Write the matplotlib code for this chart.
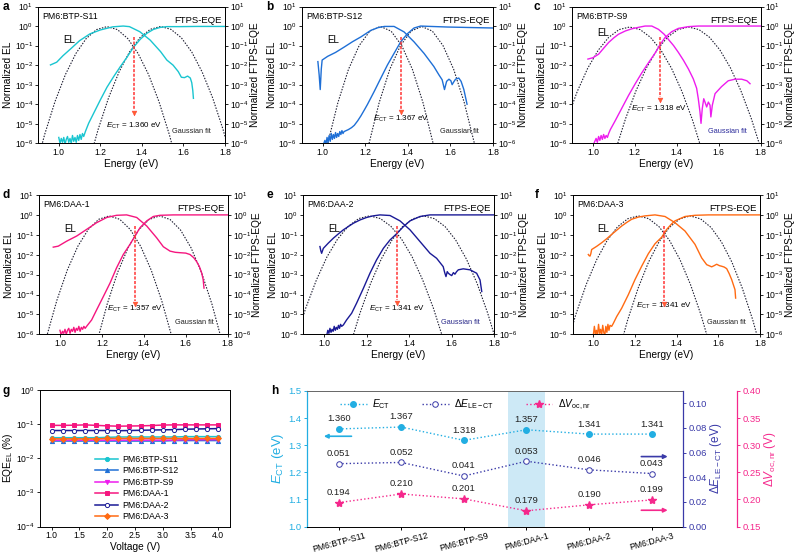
import numpy as np
import matplotlib
matplotlib.use("Agg")
import matplotlib.pyplot as plt
from matplotlib.ticker import LogLocator, NullLocator, FormatStrFormatter

plt.rcParams["font.family"] = ["Liberation Sans", "DejaVu Sans"]
plt.rcParams["mathtext.fontset"] = "custom"
plt.rcParams["mathtext.rm"] = "Liberation Sans"
plt.rcParams["mathtext.it"] = "Liberation Sans:italic"
plt.rcParams["mathtext.bf"] = "Liberation Sans:bold"
plt.rcParams["axes.linewidth"] = 0.7

# ---------------- data ----------------
samples = ["PM6:BTP-S11", "PM6:BTP-S12", "PM6:BTP-S9", "PM6:DAA-1", "PM6:DAA-2", "PM6:DAA-3"]
colors = ["#19c5d0", "#1e6fd6", "#ee1cee", "#f5167f", "#1a1a96", "#ff6a12"]
ect = [1.360, 1.367, 1.318, 1.357, 1.341, 1.341]
de_lect = [0.051, 0.052, 0.041, 0.053, 0.046, 0.043]
dv_nr = [0.194, 0.210, 0.201, 0.179, 0.190, 0.199]

# panel a (log10 of normalized values)
a_el_e = [0.96, 0.99, 1.02, 1.06, 1.10, 1.15, 1.20, 1.26, 1.31, 1.34, 1.39, 1.44, 1.49, 1.52, 1.55,
          1.575, 1.59, 1.605, 1.62, 1.633, 1.64, 1.645, 1.648]
a_el_log = [-1.99, -1.85, -1.52, -1.14, -0.75, -0.4, -0.2, -0.04, 0.0, -0.03, -0.29, -0.72, -1.31,
            -1.74, -2.0, -2.33, -2.62, -2.64, -2.56, -2.66, -2.9, -3.3, -3.7]
a_eqe_e = [1.000, 1.006, 1.012, 1.018, 1.024, 1.030, 1.036, 1.042, 1.048, 1.054, 1.060, 1.066, 1.072,
           1.078, 1.084, 1.090, 1.096, 1.102, 1.108, 1.114, 1.120, 1.128, 1.144, 1.168, 1.20, 1.232,
           1.264, 1.296, 1.328, 1.36, 1.392, 1.424, 1.456, 1.488, 1.52, 1.584, 1.664, 1.80]
a_eqe_log = [-5.7, -6.0, -5.75, -5.95, -5.7, -6.05, -5.8, -5.65, -5.95, -5.75, -6.0, -5.6, -5.9, -5.7,
             -5.95, -5.6, -5.85, -5.55, -5.8, -5.5, -5.65, -5.4, -4.97, -4.46, -3.78, -3.13, -2.59,
             -2.08, -1.6, -1.08, -0.68, -0.37, -0.17, -0.07, -0.03, -0.03, -0.02, -0.02]
a_g1_e = [0.882, 0.932, 0.982, 1.032, 1.082, 1.132, 1.182, 1.232, 1.282, 1.332, 1.382, 1.432, 1.482, 1.532, 1.582]
a_g1_log = [-7.54, -5.55, -3.86, -2.48, -1.41, -0.64, -0.18, -0.03, -0.18, -0.64, -1.41, -2.48, -3.86, -5.55, -7.54]
a_g2_e = [1.14, 1.19, 1.24, 1.29, 1.34, 1.39, 1.44, 1.49, 1.54, 1.59, 1.64, 1.69, 1.74, 1.79, 1.84]
a_g2_log = [-7.16, -5.27, -3.66, -2.35, -1.33, -0.60, -0.17, -0.02, -0.17, -0.60, -1.33, -2.35, -3.66, -5.27, -7.16]

# panel b
b_el_e = [0.977, 0.983, 0.988, 0.993, 0.997, 1.023, 1.06, 1.10, 1.14, 1.18, 1.226, 1.26, 1.29, 1.335,
          1.382, 1.429, 1.476, 1.522, 1.546, 1.561, 1.572, 1.582, 1.593, 1.602, 1.608, 1.616, 1.624,
          1.639, 1.65, 1.663, 1.678]
b_el_log = [-1.82, -2.5, -3.25, -2.2, -1.74, -1.55, -1.35, -1.08, -0.8, -0.55, -0.22, -0.08, -0.02,
            -0.02, -0.3, -0.81, -1.4, -2.07, -2.5, -2.75, -3.25, -2.83, -2.72, -2.8, -3.0, -2.85,
            -2.72, -2.66, -2.83, -3.25, -4.0]
b_eqe_e = [1.005, 1.01, 1.015, 1.02, 1.025, 1.03, 1.035, 1.04, 1.045, 1.05, 1.055, 1.06, 1.065, 1.07,
           1.075, 1.08, 1.085, 1.09, 1.095, 1.10, 1.11, 1.12, 1.135, 1.148, 1.164, 1.179, 1.195, 1.21,
           1.242, 1.273, 1.304, 1.335, 1.366, 1.398, 1.429, 1.46, 1.507, 1.585, 1.71, 1.80]
b_eqe_log = [-6.0, -5.85, -6.05, -5.7, -5.95, -5.6, -5.9, -5.5, -5.8, -5.55, -5.75, -5.45, -5.7, -5.5,
             -5.65, -5.4, -5.55, -5.35, -5.5, -5.4, -5.35, -5.3, -5.2, -5.08, -4.85, -4.6, -4.3, -4.01,
             -3.34, -2.66, -1.99, -1.4, -0.81, -0.39, -0.1, 0.0, -0.02, -0.05, -0.08, -0.1]
b_g1_e = [0.921, 0.971, 1.021, 1.071, 1.121, 1.171, 1.221, 1.271, 1.321, 1.371, 1.421, 1.471, 1.521, 1.571, 1.621]
b_g1_log = [-11.96, -8.8, -6.11, -3.92, -2.21, -1.0, -0.26, -0.02, -0.26, -1.0, -2.21, -3.92, -6.11, -8.8, -11.96]
b_g2_e = [1.115, 1.165, 1.215, 1.265, 1.315, 1.365, 1.415, 1.465, 1.515, 1.565, 1.615, 1.665, 1.715, 1.765, 1.815]
b_g2_log = [-11.96, -8.8, -6.11, -3.92, -2.21, -1.0, -0.26, -0.02, -0.26, -1.0, -2.21, -3.92, -6.11, -8.8, -11.96]

# panel c
c_el_e = [0.976, 1.0, 1.027, 1.05, 1.075, 1.10, 1.122, 1.155, 1.186, 1.22, 1.249, 1.281, 1.313, 1.34,
          1.36, 1.385, 1.408, 1.432, 1.456, 1.479, 1.495, 1.503, 1.511, 1.516, 1.522, 1.529, 1.535,
          1.543, 1.551, 1.559, 1.563, 1.57, 1.583, 1.614, 1.646, 1.678, 1.71, 1.735, 1.75]
c_el_log = [-1.69, -1.62, -1.44, -1.15, -0.84, -0.6, -0.42, -0.25, -0.14, -0.06, 0.0, 0.0, -0.17,
            -0.42, -0.68, -1.0, -1.35, -1.75, -2.2, -2.7, -3.18, -3.72, -4.39, -4.98, -4.22, -3.72,
            -3.89, -4.14, -3.89, -4.05, -4.65, -4.05, -3.46, -3.1, -2.8, -2.72, -2.72, -2.8, -2.95]
c_eqe_e = [1.003, 1.009, 1.015, 1.021, 1.027, 1.033, 1.039, 1.045, 1.051, 1.057, 1.063, 1.069, 1.075,
           1.083, 1.106, 1.138, 1.17, 1.202, 1.233, 1.265, 1.297, 1.317, 1.344, 1.376, 1.408, 1.456,
           1.503, 1.60, 1.80]
c_eqe_log = [-6.05, -5.9, -5.75, -5.95, -5.65, -5.85, -5.6, -5.8, -5.55, -5.75, -5.6, -5.7, -5.5, -5.3,
             -4.85, -4.2, -3.55, -2.95, -2.4, -1.88, -1.38, -1.01, -0.59, -0.29, -0.12, -0.03, 0.0,
             0.0, 0.0]
c_g1_e = [0.825, 0.875, 0.925, 0.975, 1.025, 1.075, 1.125, 1.175, 1.225, 1.275, 1.325, 1.375, 1.425, 1.475, 1.525]
c_g1_log = [-6.52, -4.8, -3.35, -2.16, -1.24, -0.58, -0.18, -0.05, -0.18, -0.58, -1.24, -2.16, -3.35, -4.8, -6.52]
c_g2_e = [1.106, 1.156, 1.206, 1.256, 1.306, 1.356, 1.406, 1.456, 1.506, 1.556, 1.606, 1.656, 1.706, 1.756, 1.806]
c_g2_log = [-6.42, -4.73, -3.3, -2.13, -1.22, -0.57, -0.18, -0.05, -0.18, -0.57, -1.22, -2.13, -3.3, -4.73, -6.42]

# panel d
d_el_e = [0.968, 0.992, 1.032, 1.08, 1.127, 1.175, 1.223, 1.27, 1.318, 1.366, 1.414, 1.461, 1.493,
          1.525, 1.55, 1.573, 1.60, 1.62, 1.638, 1.652, 1.665, 1.676, 1.683, 1.687]
d_el_log = [-1.62, -1.57, -1.32, -1.06, -0.73, -0.39, -0.13, -0.02, 0.0, -0.13, -0.56, -1.15, -1.6,
            -1.82, -1.88, -1.9, -1.92, -1.99, -2.15, -2.35, -2.6, -2.92, -3.25, -3.68]
d_eqe_e = [1.0, 1.006, 1.012, 1.018, 1.024, 1.03, 1.036, 1.042, 1.048, 1.054, 1.06, 1.066, 1.072, 1.078,
           1.084, 1.09, 1.096, 1.102, 1.108, 1.114, 1.12, 1.127, 1.151, 1.175, 1.207, 1.239, 1.27,
           1.302, 1.334, 1.358, 1.382, 1.414, 1.445, 1.477, 1.541, 1.80]
d_eqe_log = [-5.8, -6.05, -5.85, -5.95, -5.75, -6.0, -5.8, -5.7, -5.95, -5.75, -5.85, -5.65, -5.9, -5.7,
             -5.8, -5.6, -5.85, -5.65, -5.75, -5.6, -5.7, -5.6, -5.28, -4.77, -4.1, -3.42, -2.66, -1.99,
             -1.48, -1.06, -0.64, -0.3, -0.08, -0.02, 0.0, 0.0]
d_g1_e = [0.885, 0.935, 0.985, 1.035, 1.085, 1.135, 1.185, 1.235, 1.285, 1.335, 1.385, 1.435, 1.485, 1.535, 1.585]
d_g1_log = [-8.38, -6.17, -4.3, -2.77, -1.58, -0.73, -0.22, -0.05, -0.22, -0.73, -1.58, -2.77, -4.3, -6.17, -8.38]
d_g2_e = [1.125, 1.175, 1.225, 1.275, 1.325, 1.375, 1.425, 1.475, 1.525, 1.575, 1.625, 1.675, 1.725, 1.775, 1.825]
d_g2_log = [-8.75, -6.44, -4.49, -2.89, -1.65, -0.76, -0.23, -0.05, -0.23, -0.76, -1.65, -2.89, -4.49, -6.44, -8.75]

# panel e
e_el_e = [0.981, 0.985, 0.989, 0.993, 0.997, 1.02, 1.044, 1.068, 1.091, 1.115, 1.138, 1.17, 1.2, 1.23,
          1.263, 1.31, 1.357, 1.404, 1.451, 1.498, 1.529, 1.56, 1.567, 1.573, 1.579, 1.584, 1.592, 1.6,
          1.608, 1.615, 1.623, 1.631, 1.654, 1.686, 1.717, 1.733, 1.741]
e_el_log = [-1.59, -1.8, -1.93, -1.8, -1.68, -1.42, -1.17, -0.95, -0.75, -0.58, -0.42, -0.25, -0.13,
            -0.05, 0.0, -0.03, -0.3, -0.75, -1.34, -1.93, -2.18, -2.6, -2.9, -3.1, -2.85, -2.93, -3.0,
            -3.05, -2.9, -2.98, -2.85, -2.76, -2.71, -2.76, -2.93, -3.27, -3.85]
e_eqe_e = [1.013, 1.018, 1.023, 1.028, 1.033, 1.038, 1.043, 1.048, 1.053, 1.058, 1.063, 1.068, 1.073,
           1.078, 1.083, 1.091, 1.106, 1.13, 1.153, 1.185, 1.216, 1.247, 1.279, 1.31, 1.341, 1.373,
           1.404, 1.451, 1.498, 1.60, 1.80]
e_eqe_log = [-6.05, -5.8, -5.95, -5.7, -5.9, -5.75, -5.85, -5.6, -5.8, -5.65, -5.75, -5.55, -5.7, -5.5,
             -5.6, -5.53, -5.28, -4.94, -4.44, -3.69, -2.93, -2.26, -1.68, -1.26, -0.95, -0.59, -0.3,
             -0.08, 0.0, 0.0, 0.0]
e_g1_e = [0.864, 0.914, 0.964, 1.014, 1.064, 1.114, 1.164, 1.214, 1.264, 1.314, 1.364, 1.414, 1.464, 1.514, 1.564]
e_g1_log = [-6.37, -4.69, -3.28, -2.11, -1.21, -0.57, -0.18, -0.05, -0.18, -0.57, -1.21, -2.11, -3.28, -4.69, -6.37]
e_g2_e = [1.119, 1.169, 1.219, 1.269, 1.319, 1.369, 1.419, 1.469, 1.519, 1.569, 1.619, 1.669, 1.719, 1.769, 1.819]
e_g2_log = [-6.7, -4.94, -3.44, -2.22, -1.27, -0.59, -0.19, -0.05, -0.19, -0.59, -1.27, -2.22, -3.44, -4.94, -6.7]

# panel f
f_el_e = [0.976, 0.98, 0.984, 0.988, 0.992, 1.016, 1.04, 1.064, 1.088, 1.112, 1.136, 1.16, 1.184,
          1.216, 1.248, 1.296, 1.344, 1.392, 1.44, 1.488, 1.52, 1.544, 1.568, 1.58, 1.592, 1.605,
          1.616, 1.628, 1.64, 1.652, 1.664, 1.68, 1.683]
f_el_log = [-1.99, -2.05, -2.07, -1.95, -1.74, -1.58, -1.4, -1.2, -0.98, -0.77, -0.56, -0.38, -0.22,
            -0.11, -0.05, 0.0, -0.08, -0.39, -0.81, -1.48, -2.16, -2.5, -2.61, -2.55, -2.48, -2.55,
            -2.58, -2.62, -2.7, -2.95, -3.25, -3.76, -4.18]
f_eqe_e = [1.0, 1.005, 1.01, 1.015, 1.02, 1.025, 1.03, 1.035, 1.04, 1.045, 1.05, 1.055, 1.06, 1.065,
           1.07, 1.075, 1.08, 1.088, 1.096, 1.112, 1.136, 1.168, 1.2, 1.232, 1.264, 1.296, 1.328,
           1.352, 1.376, 1.392, 1.44, 1.488, 1.552, 1.80]
f_eqe_log = [-6.05, -5.6, -6.0, -5.8, -6.05, -5.5, -5.95, -5.75, -6.05, -5.55, -5.9, -6.05, -5.6, -5.9,
             -5.5, -5.8, -5.55, -5.6, -5.45, -5.11, -4.69, -4.01, -3.25, -2.58, -1.95, -1.45, -1.12,
             -0.73, -0.45, -0.3, -0.08, -0.02, 0.0, 0.0]
f_g1_e = [0.866, 0.916, 0.966, 1.016, 1.066, 1.116, 1.166, 1.216, 1.266, 1.316, 1.366, 1.416, 1.466, 1.516, 1.566]
f_g1_log = [-6.79, -5.0, -3.49, -2.25, -1.29, -0.6, -0.19, -0.05, -0.19, -0.6, -1.29, -2.25, -3.49, -5.0, -6.79]
f_g2_e = [1.115, 1.165, 1.215, 1.265, 1.315, 1.365, 1.415, 1.465, 1.515, 1.565, 1.615, 1.665, 1.715, 1.765, 1.815]
f_g2_log = [-7.16, -5.27, -3.68, -2.37, -1.36, -0.63, -0.2, -0.05, -0.2, -0.63, -1.36, -2.37, -3.68, -5.27, -7.16]

# panel g: EQE_EL (%) vs voltage
voltage = [1.0, 1.2, 1.4, 1.6, 1.8, 2.0, 2.2, 2.4, 2.6, 2.8, 3.0, 3.2, 3.4, 3.6, 3.8, 4.0]
eqe_el = [
    [0.040, 0.040, 0.040, 0.040, 0.040, 0.041, 0.042, 0.042, 0.042, 0.042, 0.042, 0.042, 0.043, 0.043, 0.043, 0.043],
    [0.032, 0.032, 0.032, 0.032, 0.032, 0.032, 0.032, 0.032, 0.032, 0.032, 0.032, 0.033, 0.033, 0.033, 0.033, 0.033],
    [0.034, 0.034, 0.034, 0.034, 0.034, 0.034, 0.034, 0.034, 0.034, 0.034, 0.034, 0.034, 0.035, 0.035, 0.035, 0.035],
    [0.092, 0.092, 0.093, 0.095, 0.092, 0.089, 0.087, 0.088, 0.089, 0.091, 0.094, 0.095, 0.095, 0.095, 0.095, 0.095],
    [0.065, 0.065, 0.065, 0.065, 0.065, 0.065, 0.064, 0.065, 0.066, 0.067, 0.068, 0.069, 0.071, 0.072, 0.073, 0.074],
    [0.037, 0.037, 0.037, 0.037, 0.037, 0.038, 0.038, 0.038, 0.038, 0.038, 0.038, 0.038, 0.038, 0.038, 0.038, 0.038],
]
g_markers = ["o", "^", "v", "s", "o", "D"]

spectra = [
    (a_el_e, a_el_log, a_eqe_e, a_eqe_log, a_g1_e, a_g1_log, a_g2_e, a_g2_log),
    (b_el_e, b_el_log, b_eqe_e, b_eqe_log, b_g1_e, b_g1_log, b_g2_e, b_g2_log),
    (c_el_e, c_el_log, c_eqe_e, c_eqe_log, c_g1_e, c_g1_log, c_g2_e, c_g2_log),
    (d_el_e, d_el_log, d_eqe_e, d_eqe_log, d_g1_e, d_g1_log, d_g2_e, d_g2_log),
    (e_el_e, e_el_log, e_eqe_e, e_eqe_log, e_g1_e, e_g1_log, e_g2_e, e_g2_log),
    (f_el_e, f_el_log, f_eqe_e, f_eqe_log, f_g1_e, f_g1_log, f_g2_e, f_g2_log),
]

# ---------------- layout ----------------
W, H = 794, 557
fig = plt.figure(figsize=(W / 100, H / 100), dpi=100)


def box(left, top, right, bottom):
    return [left / W, 1 - bottom / H, (right - left) / W, (bottom - top) / H]


boxes = [box(38, 6.5, 225, 143.3), box(301.5, 6.5, 493, 143.3), box(572, 6.5, 760.5, 143.3),
         box(39, 195, 227.7, 334.3), box(302.7, 195, 494.3, 334.3), box(572.5, 195, 760, 334.3)]
letters = [("a", 6, 7), ("b", 270, 7), ("c", 537, 7), ("d", 6, 195), ("e", 270, 195), ("f", 537, 195)]
# style positions per panel: arrow bottom, E_CT text y, gaussian label colour
arrow_bot = [3.5e-5, 3.8e-5, 1.6e-4, 3.3e-5, 3.6e-5, 3.3e-5]
ect_text_y = [8e-6, 1.7e-5, 6e-5, 1.8e-5, 2e-5, 2.6e-5]
fit_col = ["#222222", "#222222", "#2a2a9a", "#222222", "#2a2a8a", "#222222"]
fit_line = "#1c1c30"
TICK = 6.2
LAB = 7.3

for i, (el_e, el_log, eqe_e, eqe_log, g1_e, g1_log, g2_e, g2_log) in enumerate(spectra):
    ax = fig.add_axes(boxes[i])
    col = colors[i]
    ax.plot(g1_e, 10.0 ** np.array(g1_log), ls=(0, (1.3, 1.3)), color=fit_line, lw=0.8, zorder=2)
    ax.plot(g2_e, 10.0 ** np.array(g2_log), ls=(0, (1.3, 1.3)), color=fit_line, lw=0.8, zorder=2)
    ax.plot(el_e, 10.0 ** np.array(el_log), color=col, lw=1.0, zorder=3)
    ax.plot(eqe_e, 10.0 ** np.array(eqe_log), color=col, lw=1.0, zorder=3)
    # E_CT marker arrow
    ax.plot([ect[i], ect[i]], [0.28, arrow_bot[i] * 1.4], ls=(0, (2, 1)), color="#ff3535", lw=1.1, zorder=4)
    ax.plot(ect[i], arrow_bot[i], marker="v", ms=3.5, color="#ff6030", mec="#ff3535", mew=0.3, zorder=4)
    ax.text(ect[i], ect_text_y[i], "$E_{\\mathrm{CT}}$ = %.3f eV" % ect[i], ha="center", va="center",
            fontsize=5.8)
    ax.text(1.64, 4e-6, "Gaussian fit", ha="center", va="center", fontsize=5.3, color=fit_col[i])
    ax.text(1.02, 0.46 if i == 2 else 0.2, "EL", ha="left", va="center", fontsize=7)
    ax.text(1.785, 2.0, "FTPS-EQE", ha="right", va="center", fontsize=6.8)
    ax.text(0.025, 0.93, samples[i], transform=ax.transAxes, ha="left", va="center", fontsize=6.3)

    ax.set_yscale("log")
    ax.set_xlim(0.9, 1.8)
    ax.set_ylim(1e-6, 10)
    ax.set_xticks([1.0, 1.2, 1.4, 1.6, 1.8])
    ax.xaxis.set_major_formatter(FormatStrFormatter("%.1f"))
    ax.yaxis.set_major_locator(LogLocator(base=10, numticks=12))
    ax.yaxis.set_minor_locator(NullLocator())
    ax.tick_params(labelsize=TICK, length=2, width=0.6, pad=1.5, direction="out")
    ax.set_xlabel("Energy (eV)", fontsize=LAB, labelpad=1.5)
    ax.set_ylabel("Normalized EL", fontsize=LAB, labelpad=1)
    for s in ax.spines.values():
        s.set_color("#333333")

    axr = ax.twinx()
    axr.set_yscale("log")
    axr.set_ylim(1e-6, 10)
    axr.yaxis.set_major_locator(LogLocator(base=10, numticks=12))
    axr.yaxis.set_minor_locator(NullLocator())
    axr.tick_params(labelsize=TICK, length=2, width=0.6, pad=1.5, direction="out")
    axr.set_ylabel("Normalized FTPS-EQE", fontsize=LAB, labelpad=1)

    lt, lx, ly = letters[i]
    fig.text(lx / W, 1 - ly / H, lt, fontsize=8.5, fontweight="bold", ha="center", va="center")

# ---------------- panel g ----------------
axg = fig.add_axes(box(39.5, 390, 230, 526.5))
for k in range(6):
    face = "white" if k == 4 else colors[k]
    axg.plot(voltage, eqe_el[k], color=colors[k], marker=g_markers[k], ms=3, lw=1.1, mfc=face,
             mec=colors[k], mew=0.7, label=samples[k])
axg.set_yscale("log")
axg.set_ylim(1e-4, 1)
axg.set_xlim(0.78, 4.21)
axg.set_xticks([1.0, 1.5, 2.0, 2.5, 3.0, 3.5, 4.0])
axg.xaxis.set_major_formatter(FormatStrFormatter("%.1f"))
axg.yaxis.set_major_locator(LogLocator(base=10, numticks=8))
axg.yaxis.set_minor_locator(NullLocator())
axg.tick_params(labelsize=TICK, length=2, width=0.6, pad=1.5)
axg.set_xlabel("Voltage (V)", fontsize=LAB, labelpad=1.5)
axg.set_ylabel("EQE$_{\\mathrm{EL}}$ (%)", fontsize=LAB, labelpad=1)
axg.legend(loc="upper left", bbox_to_anchor=(0.26, 0.57), frameon=False, fontsize=6.3,
           handlelength=2.6, labelspacing=0.28, borderpad=0.2, handletextpad=0.5)
fig.text(6 / W, 1 - 391 / H, "g", fontsize=8.5, fontweight="bold", ha="center", va="center")

# ---------------- panel h ----------------
c_ect = "#22aee2"
c_de = "#3a3aa8"
c_dv = "#f5288c"
cats = np.arange(len(samples))
axh = fig.add_axes(box(307.3, 391, 683, 526.5))
axh.axvspan(2.71, 3.29, color="#cde9f6", zorder=0, lw=0)
l1, = axh.plot(cats, ect, ls=":", marker="o", color=c_ect, ms=4, lw=1, label="$E_{\\mathrm{CT}}$")
axh.set_xlim(-0.5, 5.5)
axh.set_ylim(1.0, 1.5)
axh.set_yticks([1.0, 1.1, 1.2, 1.3, 1.4, 1.5])
axh.yaxis.set_major_formatter(FormatStrFormatter("%.1f"))
axh.set_xticks(cats)
axh.set_xticklabels(samples, rotation=15, fontsize=6.2)
axh.tick_params(axis="y", colors=c_ect, labelsize=6.8, length=2.5, width=0.7, pad=1.5)
axh.tick_params(axis="x", labelsize=6.2, length=2.5, width=0.7, pad=1)
axh.spines["left"].set_color(c_ect)
axh.spines["left"].set_linewidth(0.9)
axh.spines["top"].set_color("#666666")
axh.spines["right"].set_visible(False)
axh.set_ylabel("$E_{\\mathrm{CT}}$ (eV)", color=c_ect, fontsize=9.5, labelpad=2)
for x, v in zip(cats, ect):
    axh.annotate("%.3f" % v, (x, v), xytext=(0, 4), textcoords="offset points", ha="center",
                 va="bottom", fontsize=6.8, color="#222222")

ax2 = axh.twinx()
l2, = ax2.plot(cats, de_lect, ls=":", marker="o", color=c_de, mfc="white", mec=c_de, mew=0.7, ms=4,
               lw=1, label="$\\Delta E_{\\mathrm{LE-CT}}$")
ax2.set_ylim(0, 0.11)
ax2.set_yticks([0.0, 0.02, 0.04, 0.06, 0.08, 0.10])
ax2.yaxis.set_major_formatter(FormatStrFormatter("%.2f"))
ax2.tick_params(axis="y", colors=c_de, labelsize=6.8, length=2.5, width=0.7, pad=1.5)
ax2.spines["right"].set_color(c_de)
ax2.spines["right"].set_linewidth(0.9)
for sp in ("left", "top", "bottom"):
    ax2.spines[sp].set_visible(False)
ax2.set_ylabel("$\\Delta E_{\\mathrm{LE-CT}}$ (eV)", color=c_de, fontsize=8.5, labelpad=1)
for x, v in zip(cats, de_lect):
    ax2.annotate("%.3f" % v, (x, v), xytext=(0, 4), textcoords="offset points", ha="center",
                 va="bottom", fontsize=6.8, color="#222222")

ax3 = axh.twinx()
ax3.spines["right"].set_position(("outward", 39))
l3, = ax3.plot(cats, dv_nr, ls=":", marker="*", color=c_dv, ms=6, lw=1, label="$\\Delta V_{\\mathrm{oc,nr}}$")
ax3.set_ylim(0.15, 0.40)
ax3.set_yticks([0.15, 0.20, 0.25, 0.30, 0.35, 0.40])
ax3.yaxis.set_major_formatter(FormatStrFormatter("%.2f"))
ax3.tick_params(axis="y", colors=c_dv, labelsize=6.8, length=2.5, width=0.7, pad=1.5)
ax3.spines["right"].set_color(c_dv)
ax3.spines["right"].set_linewidth(0.9)
for sp in ("left", "top", "bottom"):
    ax3.spines[sp].set_visible(False)
ax3.set_ylabel("$\\Delta V_{\\mathrm{oc,nr}}$ (V)", color=c_dv, fontsize=8.5, labelpad=1)
for x, v in zip(cats, dv_nr):
    ax3.annotate("%.3f" % v, (x, v), xytext=(0, 4), textcoords="offset points", ha="center",
                 va="bottom", fontsize=6.8, color="#222222")

# direction arrows
arr = dict(arrowstyle="-|>", lw=1.2, mutation_scale=6)
axh.annotate("", xy=(-0.28, 1.333), xytext=(0.25, 1.333), arrowprops=dict(arr, color=c_ect))
axh.annotate("", xy=(5.3, 1.258), xytext=(4.79, 1.258), arrowprops=dict(arr, color=c_de))
axh.annotate("", xy=(5.3, 1.06), xytext=(4.79, 1.06), arrowprops=dict(arr, color=c_dv))

axh.legend(handles=[l1, l2, l3], loc="upper center", bbox_to_anchor=(0.42, 1.02), ncol=3,
           frameon=False, fontsize=7.3, columnspacing=3.2, handlelength=2.6, handletextpad=0.5)
fig.text(275 / W, 1 - 391 / H, "h", fontsize=8.5, fontweight="bold", ha="center", va="center")

fig.savefig("out.png", dpi=100)
